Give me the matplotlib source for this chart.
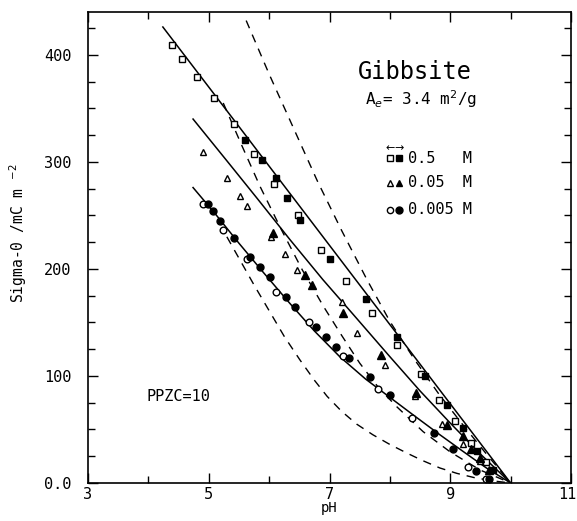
#!/usr/bin/env python

import numpy as np
import matplotlib
matplotlib.use("Agg")
import matplotlib.pyplot as plt
import matplotlib.transforms as mtransforms
from matplotlib.ticker import MultipleLocator, FixedLocator

plt.rcParams['font.family'] = ['DejaVu Sans Mono', 'DejaVu Sans']

# measured points, 0.5 M (open = forward, filled = back titration)
ph_sq_open = [4.39, 4.56, 4.80, 5.09, 5.41, 5.75, 6.08, 6.47, 6.86, 7.27, 7.71, 8.11, 8.51, 8.82, 9.08, 9.35, 9.60]
sig_sq_open = [409, 396, 379, 360, 335, 307, 279, 250, 218, 189, 159, 129, 102, 78, 58, 37, 20]
ph_sq_fill = [5.60, 5.88, 6.11, 6.30, 6.51, 7.00, 7.60, 8.11, 8.58, 8.94, 9.21, 9.45, 9.70]
sig_sq_fill = [320, 302, 285, 266, 246, 209, 172, 136, 100, 73, 51, 30, 12]

# 0.05 M
ph_tri_open = [4.91, 5.31, 5.52, 5.64, 6.03, 6.27, 6.46, 7.20, 7.45, 7.92, 8.41, 8.87, 9.21, 9.49]
sig_tri_open = [309, 285, 268, 259, 230, 214, 199, 169, 140, 110, 81, 55, 36, 21]
ph_tri_fill = [6.06, 6.60, 6.71, 7.22, 7.86, 8.43, 8.94, 9.21, 9.35, 9.49, 9.65]
sig_tri_fill = [234, 194, 185, 159, 120, 84, 54, 44, 32, 23, 12]

# 0.005 M
ph_cir_open = [4.91, 5.23, 5.64, 6.12, 6.66, 7.23, 7.81, 8.36, 9.30, 9.60]
sig_cir_open = [261, 236, 209, 178, 150, 119, 88, 61, 15, 3.5]
ph_cir_fill = [4.99, 5.07, 5.19, 5.42, 5.68, 5.85, 6.01, 6.28, 6.43, 6.77, 6.94, 7.10, 7.32, 7.67, 8.01, 8.73, 9.04, 9.43, 9.65]
sig_cir_fill = [261, 254, 245, 229, 211, 202, 192, 174, 164, 146, 136, 127, 117, 99, 82, 47, 32, 11, 4]

# model curves (solid)
ph_fit_05 = [4.24, 5.5, 7.0, 8.5, 10.0]
sig_fit_05 = [426, 333, 222, 111, 0]
ph_fit_005 = [4.74, 5.3, 5.8, 6.35, 6.89, 7.4, 8.0, 8.5, 9.0, 9.5, 10.0]
sig_fit_005 = [340, 301, 266, 227, 190, 157, 118, 86, 56, 27, 0]
ph_fit_0005 = [4.74, 5.1, 5.5, 5.9, 6.34, 6.75, 7.17, 7.6, 8.0, 8.4, 8.83, 9.2, 9.6, 10.0]
sig_fit_0005 = [276, 252, 224, 197, 168, 142, 118, 97, 80, 63, 45, 30, 14, 0]

# model curves (dashed)
ph_d1 = [5.62, 6.0, 6.4, 6.8, 7.2, 7.62, 8.0, 8.4, 8.8, 9.2, 9.6, 10.0]
sig_d1 = [432, 382, 332, 282, 236, 190, 151, 116, 84, 55, 27, 0]
ph_d2 = [5.24, 5.55, 5.85, 6.2, 6.55, 6.9, 7.2, 7.5, 7.8, 8.1, 8.55, 9.0, 9.5, 10.0]
sig_d2 = [355, 315, 277, 237, 199, 165, 138, 112, 90, 72, 48, 29, 12, 0]
ph_d3 = [5.30, 5.52, 5.75, 6.0, 6.25, 6.51, 6.75, 6.96, 7.2, 7.45, 7.72, 8.0, 8.28, 8.54, 8.83, 9.11, 9.4, 9.7, 10.0]
sig_d3 = [230, 208, 185, 161, 137, 115, 96, 81, 67, 55, 45, 36, 28, 21, 14, 9, 5, 2, 0]

conc_labels = ["0.5   M", "0.05  M", "0.005 M"]

fig = plt.figure(figsize=(5.77, 5.21), dpi=100)
ax = fig.add_axes([88 / 577, 38 / 521, 483 / 577, 471 / 521])

for x, y in [(ph_fit_05, sig_fit_05), (ph_fit_005, sig_fit_005), (ph_fit_0005, sig_fit_0005)]:
    ax.plot(x, y, color="black", lw=1.1)
for x, y in [(ph_d1, sig_d1), (ph_d2, sig_d2), (ph_d3, sig_d3)]:
    ax.plot(x, y, color="black", lw=1.0, linestyle=(0, (6, 5)))

open_kw = dict(linestyle="none", mfc="white", mec="black", mew=1.0)
fill_kw = dict(linestyle="none", mfc="black", mec="black")
ax.plot(ph_sq_open, sig_sq_open, marker="s", ms=3.8, **open_kw)
ax.plot(ph_sq_fill, sig_sq_fill, marker="s", ms=4.2, **fill_kw)
ax.plot(ph_tri_open, sig_tri_open, marker="^", ms=4.8, **open_kw)
ax.plot(ph_tri_fill, sig_tri_fill, marker="^", ms=5.2, **fill_kw)
ax.plot(ph_cir_open, sig_cir_open, marker="o", ms=4.8, **open_kw)
ax.plot(ph_cir_fill, sig_cir_fill, marker="o", ms=5.0, **fill_kw)

ax.set_xlim(3, 11)
ax.set_ylim(0, 440)
ax.xaxis.set_major_locator(FixedLocator([3, 5, 7, 9, 11]))
ax.xaxis.set_minor_locator(MultipleLocator(1))
ax.yaxis.set_major_locator(FixedLocator([0, 100, 200, 300, 400]))
ax.yaxis.set_minor_locator(MultipleLocator(25))
ax.set_yticklabels(["0.0", "100", "200", "300", "400"])
ax.tick_params(which="both", direction="in", top=True, right=True, labelsize=11, width=1)
ax.tick_params(which="major", length=7)
ax.tick_params(axis="y", which="major", pad=12)
ax.tick_params(axis="x", which="major", pad=3)
ax.tick_params(which="minor", length=5)
for s in ax.spines.values():
    s.set_linewidth(1.2)

# keep the "11" inside the canvas
last = ax.get_xticklabels()[-1]
last.set_transform(last.get_transform() + mtransforms.ScaledTranslation(-4 / 100, 0, fig.dpi_scale_trans))

ax.set_xlabel("pH", fontsize=10, labelpad=-1)
ax.set_ylabel("Sigma-0 /mC m $^{-2}$", fontsize=10.5)
ax.yaxis.set_label_coords(-0.122, 0.53)

# annotations
ax.text(0.559, 0.872, "Gibbsite", transform=ax.transAxes, fontsize=17, va="center", ha="left")
ax.text(0.573, 0.815, "A$_e$= 3.4 m$^2$/g", transform=ax.transAxes, fontsize=11.5, va="center", ha="left")
ax.text(0.122, 0.183, "PPZC=10", transform=ax.transAxes, fontsize=11, va="center", ha="left")

# legend drawn by hand
rows_y = [0.690, 0.637, 0.580]
leg_markers = [("s", 3.8, 4.2), ("^", 4.5, 5.0), ("o", 4.5, 5.0)]
for yy, (m, ms_o, ms_f), lab in zip(rows_y, leg_markers, conc_labels):
    ax.plot([0.625], [yy], marker=m, ms=ms_o, transform=ax.transAxes, **open_kw)
    ax.plot([0.643], [yy], marker=m, ms=ms_f, transform=ax.transAxes, **fill_kw)
    ax.text(0.663, yy, lab, transform=ax.transAxes, fontsize=11, va="center", ha="left")
ax.text(0.625, 0.712, "\u2190", transform=ax.transAxes, fontsize=8, va="center", ha="center",
        family="DejaVu Sans")
ax.text(0.643, 0.712, "\u2192", transform=ax.transAxes, fontsize=8, va="center", ha="center",
        family="DejaVu Sans")

fig.savefig("out.png", dpi=100)
